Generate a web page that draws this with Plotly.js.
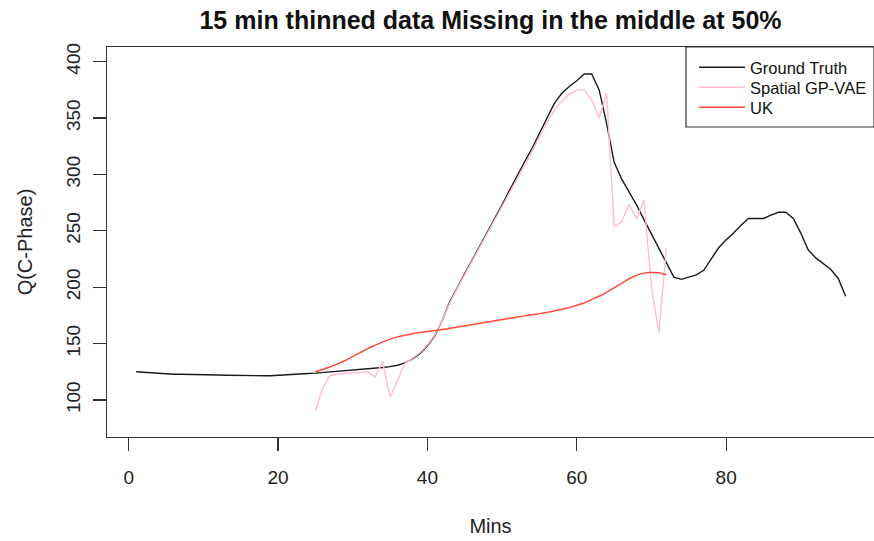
<!DOCTYPE html>
<html>
<head>
<meta charset="utf-8">
<script src="https://cdn.plot.ly/plotly-3.0.1.min.js"></script>
<style>html,body{margin:0;padding:0;background:#fff;}#chart{width:874px;height:541px;}</style>
</head>
<body>
<div id="chart"></div>
<script>
// ---- data ----
var mins = [1,2,3,4,5,6,7,8,9,10,11,12,13,14,15,16,17,18,19,20,21,22,23,24,25,26,27,28,29,30,31,32,33,34,35,36,37,38,39,40,41,42,43,44,45,46,47,48,49,50,51,52,53,54,55,56,57,58,59,60,61,62,63,64,65,66,67,68,69,70,71,72,73,74,75,76,77,78,79,80,81,82,83,84,85,86,87,88,89,90,91,92,93,94,95,96];
var groundTruth = [125,124.5,124,123.5,123,122.8,122.8,122.8,122.8,122.5,
  122.3,122.2,122,121.8,121.6,121.5,121.5,121.5,121.5,122,
  122.6,123,123.2,123.5,123.8,124.3,124.8,125.2,125.7,126.2,
  126.8,127.4,128,128.8,129.6,130.8,133,136.5,141,148,
  157,171,187,200,212,224,236,249,261,273,
  286,299,311,323,336,350,363,372,378,383,
  389,389,375,345,311,296,285,273,260,247,
  234,221,209,207,209,211,215,225,235,242,
  248,255,261,261,261,264,266.5,266.5,261,248,
  233,226,221,216,208,192];
var modelMins = [25,26,27,28,29,30,31,32,33,34,35,36,37,38,39,40,41,42,43,44,45,46,47,48,49,50,51,52,53,54,55,56,57,58,59,60,61,62,63,64,65,66,67,68,69,70,71,72];
var spatialGPVAE = [90,111,122,123,123.5,124,124.5,125,120.5,134,
  102.5,118,132.5,137,142,149,158,171,186,199,
  211,223,235,247,259,271,283,296,308,320,
  333,346,357,365,371,375,375,366,350,372,
  254,258,273.5,260.5,277,200,160,235];
var ukValues = [125,127,129.5,132,135,138.5,142,145.5,148.5,151.5,
  154,156,157.5,158.8,159.8,160.7,161.5,162.5,163.6,164.7,
  165.8,166.9,168,169.1,170.2,171.3,172.4,173.5,174.6,175.6,
  176.6,177.7,179,180.5,182,184,186,189,192,195.5,
  199.5,203.5,207.5,210.5,212.5,213,212.8,211];
var xTicks = [0,20,40,60,80];
var yTicks = [100,150,200,250,300,350,400];
var seriesNames = ['Ground Truth','Spatial GP-VAE','UK'];

var FONT = 'Liberation Sans, Arial, Helvetica, sans-serif';
var traces = [
  {x: mins, y: groundTruth, name: seriesNames[0], type: 'scatter', mode: 'lines',
   legend: 'legend', line: {color: '#1a1a1a', width: 1.4}},
  {x: modelMins, y: spatialGPVAE, name: seriesNames[1], type: 'scatter', mode: 'lines',
   legend: 'legend2', line: {color: '#FFC0CB', width: 1.4}},
  {x: modelMins, y: ukValues, name: seriesNames[2], type: 'scatter', mode: 'lines',
   legend: 'legend3', line: {color: '#FF4A3A', width: 1.5, shape: 'spline', smoothing: 0.6}}
];

function legendAt(topPx) {
  return {x: (694 - 107) / 767, xanchor: 'left', y: (437 - topPx) / 390, yanchor: 'top',
    bgcolor: 'rgba(0,0,0,0)', borderwidth: 0,
    font: {family: FONT, size: 16.5, color: '#111'}, itemwidth: 46};
}

var layout = {
  width: 874, height: 541,
  margin: {l: 107, r: 0, t: 47, b: 104},
  paper_bgcolor: '#ffffff', plot_bgcolor: '#ffffff',
  font: {family: FONT, size: 19, color: '#222'},
  title: {text: '<b>15 min thinned data Missing in the middle at 50%</b>',
    font: {family: FONT, size: 25, color: '#111'},
    x: 0.5, xref: 'paper', xanchor: 'center', y: 1 - 20/541, yanchor: 'middle'},
  xaxis: {range: [-2.9, 99.8], tickvals: xTicks, ticktext: xTicks.map(String),
    showgrid: false, zeroline: false, showline: true, mirror: true,
    linecolor: '#333', linewidth: 1.2, ticks: 'outside', ticklen: 13, tickwidth: 1.2,
    tickcolor: '#333', ticklabelstandoff: 10, tickfont: {size: 19},
    title: {text: 'Mins', font: {size: 20}, standoff: 32}},
  yaxis: {range: [67.2, 413], tickvals: yTicks, ticktext: yTicks.map(String),
    showgrid: false, zeroline: false, showline: true, mirror: true,
    linecolor: '#333', linewidth: 1.2, ticks: 'outside', ticklen: 13, tickwidth: 1.2,
    tickcolor: '#333', tickangle: -90, ticklabelstandoff: 5, tickfont: {size: 19},
    title: {text: 'Q(C-Phase)', font: {size: 20}, standoff: 25}},
  showlegend: true,
  legend: legendAt(50),
  legend2: legendAt(70),
  legend3: legendAt(90),
  shapes: [{type: 'rect', xref: 'paper', yref: 'paper',
    x0: (686 - 107) / 767, x1: 1, y0: (437 - 127) / 390, y1: 1,
    line: {color: '#333', width: 1.2}, fillcolor: 'rgba(0,0,0,0)'}]
};

Plotly.newPlot('chart', traces, layout, {displayModeBar: false, staticPlot: true});
</script>
</body>
</html>
